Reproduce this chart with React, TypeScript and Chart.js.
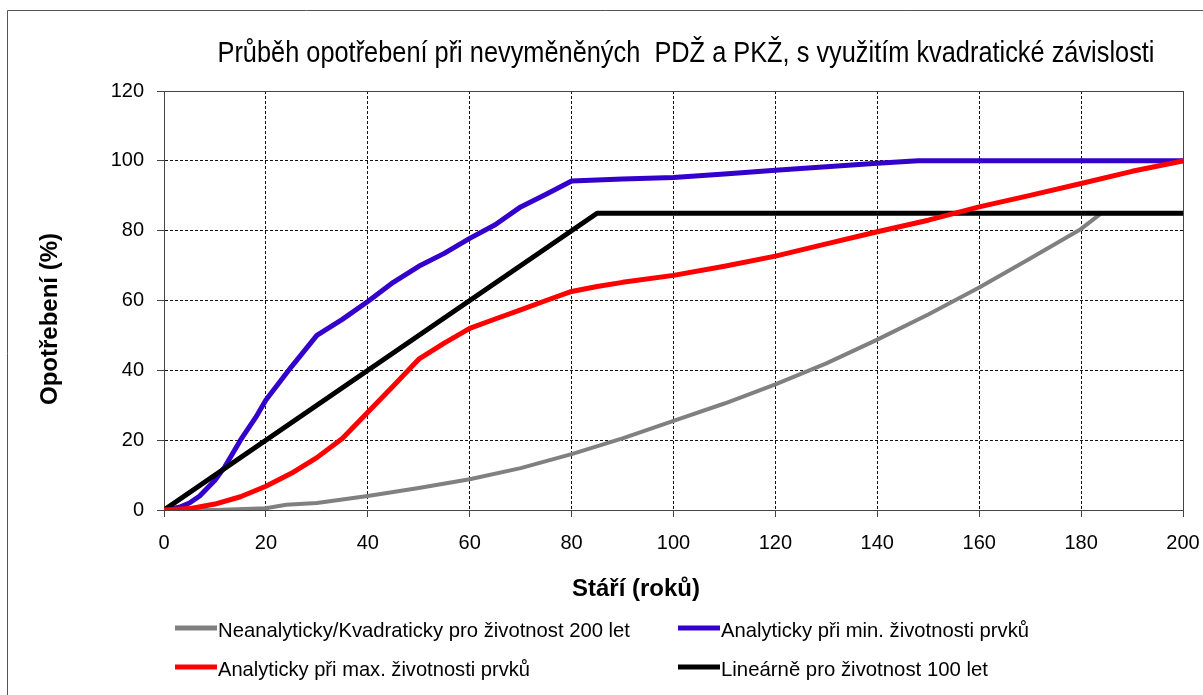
import React, { useEffect, useRef } from "react";
import { Chart, registerables } from "chart.js";

Chart.register(...registerables);

// ---------- text ----------
const TITLE = "Průběh opotřebení při nevyměněných  PDŽ a PKŽ, s využitím kvadratické závislosti";
const X_TITLE = "Stáří (roků)";
const Y_TITLE = "Opotřebení (%)";
const SERIES_LABELS = [
  "Neanalyticky/Kvadraticky pro životnost 200 let",
  "Analyticky při min. životnosti prvků",
  "Analyticky při max. životnosti prvků",
  "Lineárně pro životnost 100 let",
];

// ---------- axes ----------
const X_MIN = 0;
const X_MAX = 200;
const X_STEP = 20;
const Y_MIN = 0;
const Y_MAX = 120;
const Y_STEP = 20;

// ---------- data ----------
const grayX = [0, 10, 20, 24, 30, 40, 50, 60, 70, 80, 90, 100, 110, 120, 130, 140, 150, 160, 170, 180, 184, 200];
const grayY = [0, 0, 0.5, 1.5, 2, 4, 6.3, 8.8, 12, 16, 20.5, 25.5, 30.5, 36, 42, 48.8, 56, 63.7, 72, 80.5, 85, 85];

const blueX = [0, 3, 5, 7, 10, 12, 15, 18, 20, 25, 30, 35, 40, 45, 50, 55, 60, 65, 70, 75, 80, 90, 100, 110, 120, 130, 140, 148, 200];
const blueY = [0, 0.8, 2, 4, 8.5, 12.5, 20, 26.5, 31.5, 41, 50, 54.6, 59.7, 65.2, 69.8, 73.5, 77.8, 81.7, 86.8, 90.4, 94.2, 94.8, 95.2, 96.2, 97.3, 98.3, 99.3, 100, 100];

const redX = [0, 5, 10, 15, 20, 25, 30, 35, 40, 45, 50, 55, 60, 65, 70, 75, 80, 85, 90, 100, 110, 120, 130, 140, 150, 160, 170, 180, 190, 200];
const redY = [0, 0.4, 1.7, 3.8, 6.8, 10.5, 15, 20.5, 28, 35.5, 43.2, 47.8, 52, 54.7, 57.3, 60, 62.6, 64, 65.2, 67.2, 69.8, 72.7, 76.2, 79.7, 83, 86.8, 90.1, 93.5, 97, 100];

const blackX = [0, 85, 200];
const blackY = [0, 85, 85];

// ---------- styles ----------
const COLORS = ["#808080", "#3300CC", "#FF0000", "#000000"];
const WIDTHS = [4, 5, 5, 5];
const DRAW_ORDER = [3, 2, 0, 1]; // lower = drawn on top

const FONT = '"Liberation Sans", Arial, sans-serif';
const TICK_FONT = '"Liberation Sans", Arial, sans-serif';

const toPoints = (xs: number[], ys: number[]) => xs.map((x, i) => ({ x, y: ys[i] }));

function fitText(
  ctx: CanvasRenderingContext2D,
  text: string,
  font: string,
  x: number,
  y: number,
  width: number,
  align: "left" | "center",
  rotate = false
) {
  ctx.save();
  ctx.font = font;
  ctx.fillStyle = "#000";
  ctx.textBaseline = "alphabetic";
  ctx.textAlign = "left";
  const w = ctx.measureText(text).width;
  const s = width / w;
  ctx.translate(x, y);
  if (rotate) ctx.rotate(-Math.PI / 2);
  ctx.scale(s, 1);
  ctx.fillText(text, align === "center" ? -w / 2 : 0, 0);
  ctx.restore();
}

const decorPlugin = {
  id: "decor",
  beforeDraw(chart: any) {
    const ctx = chart.ctx as CanvasRenderingContext2D;
    ctx.save();
    ctx.fillStyle = "#fff";
    ctx.fillRect(0, 0, chart.width, chart.height);
    // outer frame (left + top visible)
    ctx.strokeStyle = "#555";
    ctx.lineWidth = 1;
    ctx.beginPath();
    ctx.moveTo(7.5, chart.height + 5);
    ctx.lineTo(7.5, 10.5);
    ctx.lineTo(chart.width + 5, 10.5);
    ctx.stroke();
    ctx.restore();
  },
  beforeDatasetsDraw(chart: any) {
    const ctx = chart.ctx as CanvasRenderingContext2D;
    const a = chart.chartArea;
    ctx.save();
    ctx.strokeStyle = "#444";
    ctx.lineWidth = 1;
    ctx.strokeRect(Math.round(a.left) + 0.5, Math.round(a.top) + 0.5, Math.round(a.right - a.left), Math.round(a.bottom - a.top));
    ctx.restore();
  },
  afterDraw(chart: any) {
    const ctx = chart.ctx as CanvasRenderingContext2D;
    // title
    fitText(ctx, TITLE, `29px ${FONT}`, 686, 62, 937, "center");
    // axis titles
    fitText(ctx, X_TITLE, `bold 23px ${FONT}`, 636, 596, 128, "center");
    fitText(ctx, Y_TITLE, `bold 23px ${FONT}`, 57, 319, 172, "center", true);
    // legend
    const cols = [175, 678];
    const rows = [628, 667];
    const textW = [412, 308, 312, 267];
    chart.data.datasets.forEach((ds: any, i: number) => {
      const cx = cols[i % 2];
      const cy = rows[Math.floor(i / 2)];
      ctx.save();
      ctx.strokeStyle = ds.borderColor;
      ctx.lineWidth = 5;
      ctx.beginPath();
      ctx.moveTo(cx, cy);
      ctx.lineTo(cx + 42, cy);
      ctx.stroke();
      ctx.restore();
      fitText(ctx, ds.label, `21px ${FONT}`, cx + 43, cy + 9, textW[i], "left");
    });
  },
};

const edgeless = (max: number) => (c: any) =>
  c.tick && (c.tick.value === 0 || c.tick.value === max) ? "rgba(0,0,0,0)" : "#111";

export default function App() {
  const ref = useRef<HTMLCanvasElement | null>(null);

  useEffect(() => {
    if (!ref.current) return;
    const series = [
      toPoints(grayX, grayY),
      toPoints(blueX, blueY),
      toPoints(redX, redY),
      toPoints(blackX, blackY),
    ];
    const chart = new Chart(ref.current, {
      type: "line",
      data: {
        datasets: series.map((data, i) => ({
          label: SERIES_LABELS[i],
          data,
          borderColor: COLORS[i],
          backgroundColor: COLORS[i],
          borderWidth: WIDTHS[i],
          order: DRAW_ORDER[i],
          pointRadius: 0,
          tension: 0,
          fill: false,
          borderCapStyle: "round",
          borderJoinStyle: "round",
        })),
      },
      options: {
        animation: false,
        responsive: false,
        devicePixelRatio: 1,
        layout: { padding: { top: 91, right: 20, left: 0, bottom: 0 } },
        plugins: {
          legend: { display: false },
          title: { display: false },
          tooltip: { enabled: false },
        },
        scales: {
          x: {
            type: "linear",
            min: X_MIN,
            max: X_MAX,
            ticks: {
              stepSize: X_STEP,
              color: "#000",
              font: { family: TICK_FONT, size: 20 },
              padding: 14,
              maxRotation: 0,
            },
            grid: {
              color: edgeless(X_MAX),
              lineWidth: 1,
              tickLength: 7,
              tickColor: "#444",
              tickWidth: 1,
              borderDash: [3, 2],
            },
            border: { display: true, color: "#444", dash: [3, 2] },
            afterFit: (s: any) => {
              s.height = 185;
              s.paddingRight = 0;
              s.paddingLeft = 0;
            },
          },
          y: {
            type: "linear",
            min: Y_MIN,
            max: Y_MAX,
            ticks: {
              stepSize: Y_STEP,
              color: "#000",
              font: { family: TICK_FONT, size: 20 },
              padding: 13,
            },
            grid: {
              color: edgeless(Y_MAX),
              lineWidth: 1,
              tickLength: 7,
              tickColor: "#444",
              tickWidth: 1,
              borderDash: [3, 2],
            },
            border: { display: true, color: "#444", dash: [3, 2] },
            afterFit: (s: any) => {
              s.width = 164;
              s.paddingTop = 0;
              s.paddingBottom = 0;
            },
          },
        },
      } as any,
      plugins: [decorPlugin],
    });
    return () => chart.destroy();
  }, []);

  return (
    <div style={{ position: "absolute", left: 0, top: 0, width: 1203, height: 695, background: "#fff" }}>
      <canvas ref={ref} width={1203} height={695} style={{ display: "block", width: 1203, height: 695 }} />
    </div>
  );
}
